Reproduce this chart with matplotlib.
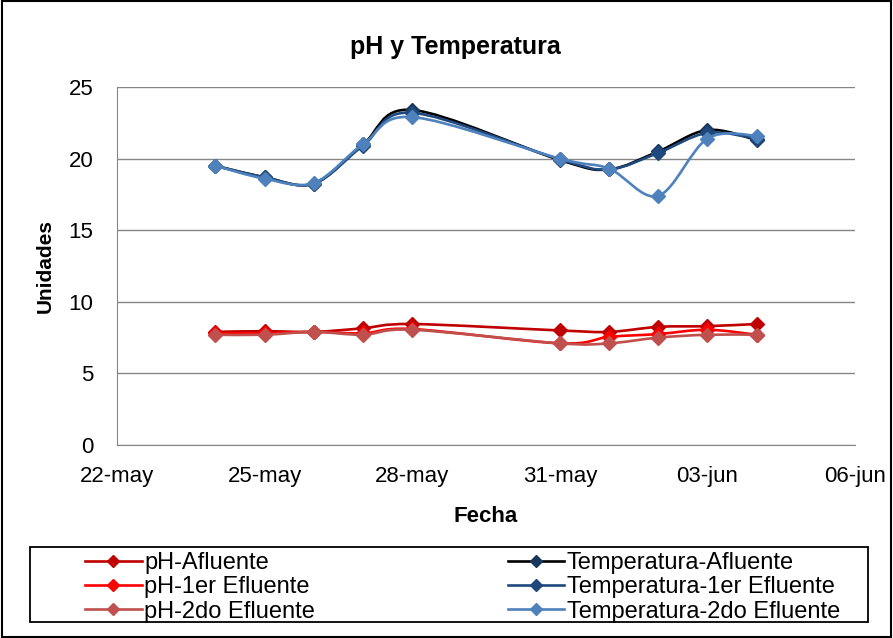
import datetime as dt
import numpy as np
import matplotlib
matplotlib.use('Agg')
import matplotlib.pyplot as plt
import matplotlib.dates as mdates
from matplotlib.path import Path
from matplotlib.patches import PathPatch, Rectangle
from matplotlib.lines import Line2D

plt.rcParams['font.family'] = ['Liberation Sans', 'DejaVu Sans']

fechas = ['2011-05-24', '2011-05-25', '2011-05-26', '2011-05-27', '2011-05-28',
          '2011-05-31', '2011-06-01', '2011-06-02', '2011-06-03', '2011-06-04']

ph_afluente = [7.9, 7.95, 7.9, 8.15, 8.45, 8.0, 7.9, 8.25, 8.3, 8.45]
ph_1er = [7.8, 7.8, 7.9, 7.8, 8.1, 7.1, 7.55, 7.75, 8.05, 7.7]
ph_2do = [7.7, 7.7, 7.9, 7.7, 8.05, 7.1, 7.1, 7.5, 7.7, 7.7]
temp_afluente = [19.5, 18.7, 18.25, 21.0, 23.4, 19.9, 19.25, 20.5, 22.0, 21.3]
temp_1er = [19.5, 18.7, 18.25, 20.9, 23.2, 19.95, 19.25, 20.4, 21.8, 21.4]
temp_2do = [19.5, 18.6, 18.3, 21.0, 22.9, 20.0, 19.3, 17.4, 21.4, 21.6]

etiquetas_x = ['22-may', '25-may', '28-may', '31-may', '03-jun', '06-jun']
fechas_ticks = ['2011-05-22', '2011-05-25', '2011-05-28', '2011-05-31', '2011-06-03', '2011-06-06']

series = [
    ('pH-Afluente', ph_afluente, '#C00000', '#C00000'),
    ('pH-1er Efluente', ph_1er, '#FF0000', '#FF0000'),
    ('pH-2do Efluente', ph_2do, '#C0504D', '#C0504D'),
    ('Temperatura-Afluente', temp_afluente, '#000000', '#17375E'),
    ('Temperatura-1er Efluente', temp_1er, '#1F497D', '#1F497D'),
    ('Temperatura-2do Efluente', temp_2do, '#4F81BD', '#4F81BD'),
]


def suave(x, y):
    # curva tipo Excel (bezier con tension 1/6)
    x = np.asarray(x, float)
    y = np.asarray(y, float)
    n = len(x)
    verts = [(x[0], y[0])]
    codes = [Path.MOVETO]
    for i in range(n - 1):
        i0 = max(i - 1, 0)
        i3 = min(i + 2, n - 1)
        c1 = (x[i] + (x[i + 1] - x[i0]) / 6, y[i] + (y[i + 1] - y[i0]) / 6)
        c2 = (x[i + 1] - (x[i3] - x[i]) / 6, y[i + 1] - (y[i3] - y[i]) / 6)
        verts += [c1, c2, (x[i + 1], y[i + 1])]
        codes += [Path.CURVE4] * 3
    return Path(verts, codes)


fig = plt.figure(figsize=(8.93, 6.38), dpi=100)
ax = fig.add_axes([0.131, 0.3025, 0.8265, 0.5611])

xs = mdates.date2num([dt.datetime.strptime(f, '%Y-%m-%d') for f in fechas])
handles = []
for k, (nombre, valores, color, mcolor) in enumerate(series):
    ax.add_patch(PathPatch(suave(xs, valores), facecolor='none', edgecolor=color,
                           lw=1.9, zorder=3 + k))
    ax.plot(xs, valores, linestyle='none', marker='D', ms=7, color=mcolor,
            mec=mcolor, zorder=3 + k)
    handles.append(Line2D([], [], color=color, lw=1.9, marker='D', ms=6,
                          mfc=mcolor, mec=mcolor))

xt = mdates.date2num([dt.datetime.strptime(f, '%Y-%m-%d') for f in fechas_ticks])
ax.set_xlim(xt[0], xt[-1])
ax.set_ylim(0, 25)
ax.set_xticks(xt)
ax.set_xticklabels(etiquetas_x)
ax.set_yticks([0, 5, 10, 15, 20, 25])
ax.tick_params(labelsize=16, length=0)
ax.tick_params(axis='x', pad=15)
ax.tick_params(axis='y', pad=17)
ax.grid(axis='y', color='#868686', lw=1)
ax.set_axisbelow(True)
for s in ['top', 'right']:
    ax.spines[s].set_visible(False)
for s in ['left', 'bottom']:
    ax.spines[s].set_color('#868686')

fig.text(455 / 893, 1 - 47 / 638, 'pH y Temperatura', fontsize=18, fontweight='bold',
         ha='center', va='center')
fig.text(486 / 893, 1 - 517 / 638, 'Fecha', fontsize=16, fontweight='bold',
         ha='center', va='center')
fig.text(45 / 893, 1 - 266 / 638, 'Unidades', fontsize=15, fontweight='bold',
         ha='center', va='center', rotation=90)

# marco de la leyenda
fig.patches.append(Rectangle((30 / 893, 1 - 622 / 638), 838 / 893, 75 / 638,
                             transform=fig.transFigure, fill=False,
                             edgecolor='black', lw=1.3))
leg = fig.legend(handles, [s[0] for s in series], ncol=2, loc='upper left',
                 bbox_to_anchor=(85 / 893, 1 - 623 / 638, 755 / 893, 71 / 638),
                 mode='expand', fontsize=17, frameon=False,
                 handlelength=2.4, borderpad=0.0, labelspacing=0.1,
                 handletextpad=0.1, borderaxespad=0)

fig.patches.append(Rectangle((0.002, 0.002), 0.996, 0.996, transform=fig.transFigure,
                             fill=False, edgecolor='black', lw=1.5))

fig.savefig('out.png', dpi=100)
